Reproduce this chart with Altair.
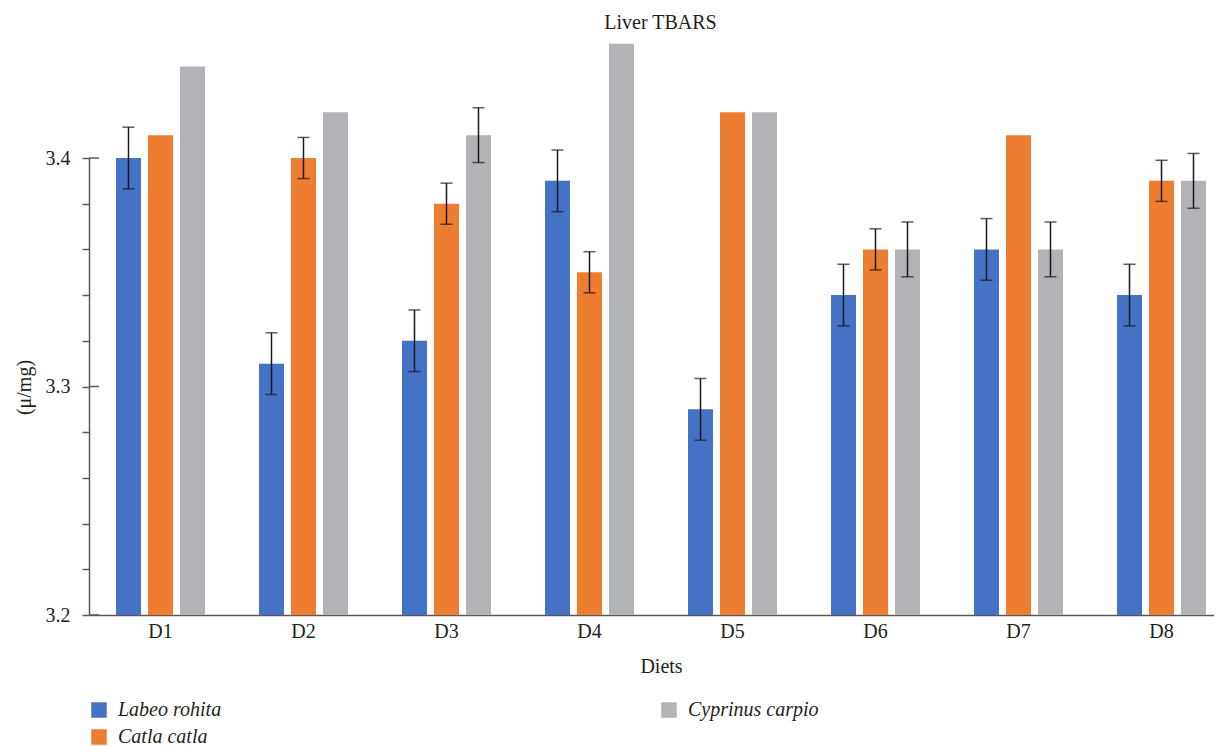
import altair as alt
import pandas as pd

diets = ["D1", "D2", "D3", "D4", "D5", "D6", "D7", "D8"]
species = ["Labeo rohita", "Catla catla", "Cyprinus carpio"]
rohita = [3.40, 3.31, 3.32, 3.39, 3.29, 3.34, 3.36, 3.34]
catla = [3.41, 3.40, 3.38, 3.35, 3.42, 3.36, 3.41, 3.39]
carpio = [3.44, 3.42, 3.41, 3.45, 3.42, 3.36, 3.36, 3.39]
rohita_err = [0.0135, 0.0135, 0.0135, 0.0135, 0.0135, 0.0135, 0.0135, 0.0135]
catla_err = [None, 0.009, 0.009, 0.009, None, 0.009, None, 0.009]
carpio_err = [None, None, 0.012, None, None, 0.012, 0.012, 0.012]
y_ticks = [3.2, 3.22, 3.24, 3.26, 3.28, 3.3, 3.32, 3.34, 3.36, 3.38, 3.4]
major_ticks = [3.2, 3.3, 3.4]

colors = {"Labeo rohita": "#4472C4", "Catla catla": "#ED7D31", "Cyprinus carpio": "#B2B3B6"}
FONT = "Liberation Serif"
TXT = "#231f20"
AX = "#595959"

rows = []
for sp, vals, errs in [(species[0], rohita, rohita_err), (species[1], catla, catla_err), (species[2], carpio, carpio_err)]:
    for d, v, e in zip(diets, vals, errs):
        rows.append({"diet": d, "species": sp, "value": v,
                     "lo": (v - e) if e is not None else None,
                     "hi": (v + e) if e is not None else None})
df = pd.DataFrame(rows)
ticks_df = pd.DataFrame({"t": major_ticks})

xscale = alt.Scale(domain=diets, range=[0, 1144], paddingInner=0, paddingOuter=0)
offscale = alt.Scale(domain=species, paddingInner=0.21875, paddingOuter=0.84375)
yscale = alt.Scale(domain=[3.2, 3.4], nice=False, zero=False)

x_enc = alt.X("diet:N", scale=xscale, sort=diets,
              axis=alt.Axis(title="Diets", ticks=False, tickSize=0, labelPadding=6,
                            labelFont=FONT, labelFontSize=20, labelColor=TXT, labelAngle=0,
                            titleFont=FONT, titleFontSize=20, titleFontWeight="normal", titleColor=TXT,
                            titleY=57, titleBaseline="alphabetic",
                            domainColor=AX, domainWidth=1.5, grid=False))
off_enc = alt.XOffset("species:N", scale=offscale)

bars = alt.Chart(df).mark_bar().encode(
    x=x_enc,
    xOffset=off_enc,
    y=alt.Y("value:Q", scale=yscale,
            axis=alt.Axis(values=y_ticks,
                          labelExpr="abs(datum.value*10 - round(datum.value*10)) < 0.001 ? format(datum.value, '.1f') : ''",
                          tickSize=7, tickWidth=1.5, tickColor=AX, labelPadding=12,
                          labelFont=FONT, labelFontSize=20, labelColor=TXT,
                          domainColor=AX, domainWidth=1.5, grid=False,
                          title="(μ/mg)", titleFont=FONT, titleFontSize=20, titleFontWeight="normal",
                          titleColor=TXT, titleAngle=270, titleX=-65, titleY=229,
                          titleAlign="center", titleBaseline="middle")),
    y2=alt.datum(3.2),
    color=alt.Color("species:N",
                    scale=alt.Scale(domain=species, range=[colors[s] for s in species]),
                    legend=alt.Legend(title=None, orient="none", legendX=0, legendY=542,
                                      columns=2, columnPadding=437, rowPadding=7, padding=0,
                                      symbolType="square", symbolSize=240, symbolStrokeWidth=0,
                                      labelFont=FONT, labelFontSize=20, labelFontStyle="italic",
                                      labelColor=TXT, labelOffset=9, labelLimit=0)),
)

err = alt.Chart(df).transform_filter("isValid(datum.lo)")

err_rule = err.mark_rule(color="#1a1a1a", strokeWidth=1.5).encode(
    x=alt.X("diet:N", scale=xscale, sort=diets),
    xOffset=off_enc,
    y=alt.Y("lo:Q", scale=yscale),
    y2="hi:Q",
)

err_caps = err.transform_fold(["lo", "hi"], as_=["end", "ev"]).mark_tick(
    color="#1a1a1a", orient="horizontal", size=12, thickness=1.5
).encode(
    x=alt.X("diet:N", scale=xscale, sort=diets),
    xOffset=off_enc,
    y=alt.Y("ev:Q", scale=yscale),
)

inner_ticks = alt.Chart(ticks_df).mark_rule(color=AX, strokeWidth=1.5).encode(
    y=alt.Y("t:Q", scale=yscale),
    x=alt.value(0),
    x2=alt.value(10),
)

chart = alt.layer(bars, err_rule, err_caps, inner_ticks).properties(
    width=1125, height=457,
    padding={"left": 81, "top": 150, "right": 0, "bottom": 131},
    autosize=alt.AutoSizeParams(type="none"),
    title=alt.Title("Liver TBARS", font=FONT, fontSize=20, fontWeight="normal", color=TXT,
                    anchor="middle", frame="group", offset=14, baseline="alphabetic", dx=9, dy=19),
).configure_view(stroke=None)

chart.save("out.html", embed_options={"renderer": "svg", "actions": False})
